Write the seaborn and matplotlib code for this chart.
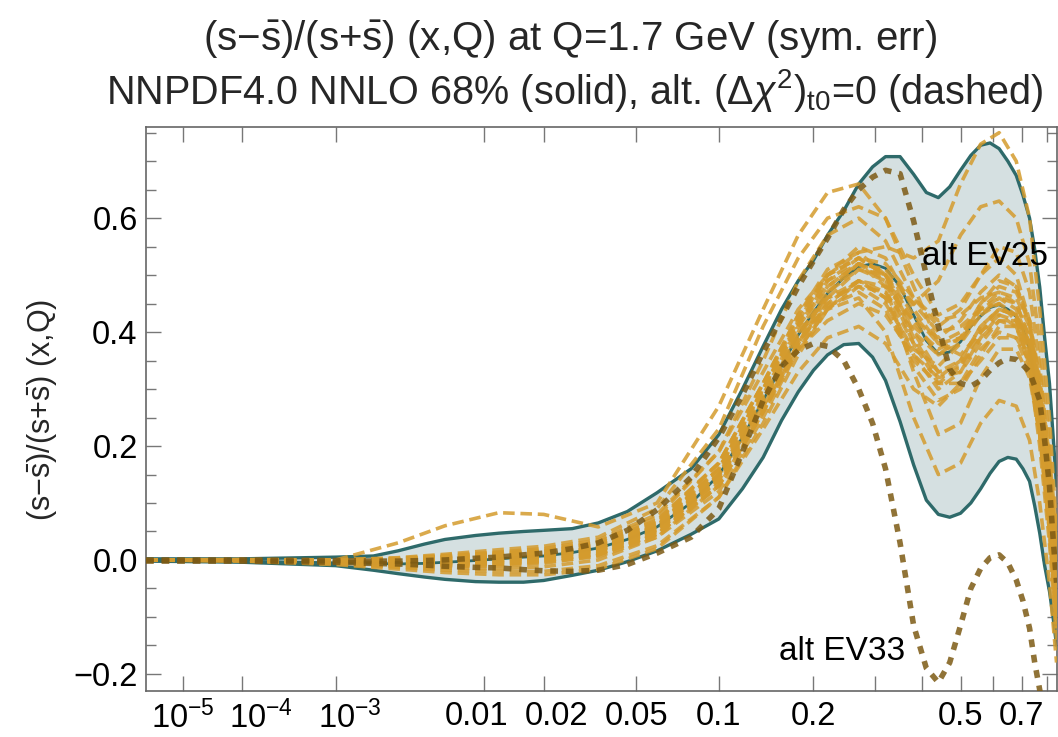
import numpy as np
import pandas as pd
import matplotlib
matplotlib.use("Agg")
import matplotlib.pyplot as plt
import matplotlib.transforms as mtransforms
import seaborn as sns

# ---------------- data ----------------
# fine x grid for the 68% band, central curve and the two highlighted alternatives
x_fine = [1e-6, 1e-4, 1e-3, 0.002, 0.003, 0.0045, 0.006, 0.009, 0.012, 0.016, 0.02, 0.027,
          0.035, 0.046, 0.06, 0.08, 0.1, 0.12, 0.14, 0.16, 0.18, 0.2, 0.22, 0.245, 0.27,
          0.295, 0.32, 0.35, 0.38, 0.41, 0.44, 0.47, 0.5, 0.53, 0.56, 0.59, 0.62, 0.65,
          0.68, 0.705, 0.73, 0.75, 0.77, 0.79, 0.81, 0.825, 0.84]

band_upper = [0.002, 0.002, 0.005, 0.007, 0.016, 0.028, 0.036, 0.043, 0.047, 0.05, 0.052, 0.055,
              0.065, 0.085, 0.118, 0.16, 0.22, 0.3, 0.375, 0.44, 0.49, 0.526, 0.57, 0.613, 0.66,
              0.69, 0.708, 0.708, 0.677, 0.645, 0.636, 0.655, 0.684, 0.71, 0.728, 0.732, 0.722, 0.70,
              0.675, 0.64, 0.6, 0.545, 0.479, 0.39, 0.31, 0.22, 0.13]
band_lower = [-0.002, -0.004, -0.01, -0.018, -0.024, -0.03, -0.034, -0.038, -0.039, -0.039, -0.036, -0.027,
              -0.018, -0.003, 0.016, 0.045, 0.072, 0.125, 0.18, 0.245, 0.295, 0.333, 0.36, 0.378, 0.38,
              0.356, 0.315, 0.243, 0.167, 0.105, 0.08, 0.075, 0.082, 0.1, 0.125, 0.152, 0.173, 0.18,
              0.177, 0.16, 0.138, 0.095, 0.047, -0.01, -0.055, -0.1, -0.15]
central = [0.0, -0.002, -0.005, -0.006, -0.007, -0.006, -0.004, -0.001, 0.002, 0.005, 0.007, 0.013,
           0.021, 0.036, 0.058, 0.1, 0.149, 0.215, 0.28, 0.34, 0.395, 0.435, 0.468, 0.495, 0.515,
           0.52, 0.512, 0.48, 0.43, 0.385, 0.362, 0.365, 0.383, 0.41, 0.428, 0.443, 0.448, 0.44,
           0.427, 0.405, 0.37, 0.32, 0.263, 0.19, 0.13, 0.06, -0.01]

ev25 = [0.0, 0.0, -0.001, -0.002, -0.002, -0.001, 0.0, 0.003, 0.005, 0.009, 0.012, 0.02,
        0.03, 0.052, 0.088, 0.145, 0.215, 0.29, 0.365, 0.425, 0.48, 0.525, 0.565, 0.615, 0.65,
        0.672, 0.684, 0.678, 0.595, 0.5, 0.41, 0.335, 0.31, 0.305, 0.315, 0.333, 0.346, 0.354,
        0.352, 0.342, 0.33, 0.305, 0.28, 0.21, 0.13, 0.04, -0.04]
ev33 = [-0.002, -0.002, -0.004, -0.006, -0.007, -0.009, -0.011, -0.013, -0.014, -0.017, -0.019, -0.02,
        -0.018, -0.008, 0.012, 0.04, 0.09, 0.19, 0.28, 0.34, 0.368, 0.38, 0.375, 0.35, 0.3,
        0.24, 0.16, 0.03, -0.115, -0.19, -0.215, -0.18, -0.115, -0.05, -0.015, 0.004, 0.009, -0.005,
        -0.035, -0.072, -0.12, -0.18, -0.228, -0.3, -0.36, -0.42, -0.47]

# coarser x grid for the bundle of alternative (dashed) fits
x_nodes = [1e-6, 1e-4, 1e-3, 0.003, 0.006, 0.012, 0.02, 0.035, 0.06, 0.1, 0.14, 0.18,
           0.22, 0.27, 0.32, 0.38, 0.44, 0.5, 0.56, 0.62, 0.68, 0.73, 0.77, 0.81, 0.84]

alt_sets = {
    "O1": [0.0, 0.0, 0.0, 0.03, 0.06, 0.083, 0.08, 0.058, 0.1, 0.27, 0.44, 0.57, 0.645, 0.66, 0.6, 0.48, 0.38, 0.36, 0.4, 0.44, 0.43, 0.36, 0.22, 0.05, -0.12],
    "O2": [0.0, 0.0, 0.0, 0.003, 0.008, 0.014, 0.02, 0.035, 0.08, 0.19, 0.33, 0.44, 0.5, 0.54, 0.55, 0.53, 0.56, 0.66, 0.73, 0.75, 0.7, 0.6, 0.44, 0.25, 0.05],
    "O3": [0.0, 0.0, -0.001, 0.0, 0.004, 0.01, 0.015, 0.03, 0.07, 0.17, 0.31, 0.43, 0.5, 0.53, 0.5, 0.45, 0.49, 0.57, 0.62, 0.63, 0.6, 0.52, 0.38, 0.2, 0.0],
    "O4": [0.0, 0.0, 0.0, 0.004, 0.01, 0.018, 0.024, 0.04, 0.09, 0.23, 0.41, 0.53, 0.6, 0.62, 0.6, 0.5, 0.43, 0.45, 0.5, 0.53, 0.5, 0.42, 0.3, 0.13, -0.05],
    "O5": [0.0, 0.0, -0.004, -0.008, -0.01, -0.008, -0.004, 0.006, 0.04, 0.12, 0.25, 0.37, 0.44, 0.46, 0.4, 0.25, 0.15, 0.17, 0.24, 0.28, 0.27, 0.21, 0.1, -0.04, -0.18],
    "O6": [0.0, 0.0, -0.003, -0.006, -0.007, -0.005, -0.001, 0.01, 0.045, 0.13, 0.26, 0.38, 0.47, 0.52, 0.48, 0.33, 0.22, 0.24, 0.32, 0.37, 0.37, 0.32, 0.22, 0.08, -0.07],
    "O7": [0.0, 0.0, 0.0, 0.002, 0.006, 0.012, 0.018, 0.032, 0.075, 0.19, 0.35, 0.49, 0.57, 0.6, 0.56, 0.46, 0.41, 0.44, 0.5, 0.55, 0.54, 0.47, 0.34, 0.17, 0.0],
    "O8": [0.0, -0.001, -0.006, -0.013, -0.018, -0.02, -0.02, -0.01, 0.025, 0.11, 0.23, 0.33, 0.39, 0.41, 0.38, 0.3, 0.27, 0.31, 0.37, 0.4, 0.39, 0.33, 0.22, 0.06, -0.1],
    "O9": [0.0, -0.002, -0.008, -0.016, -0.022, -0.026, -0.026, -0.016, 0.02, 0.11, 0.24, 0.36, 0.44, 0.49, 0.47, 0.38, 0.33, 0.35, 0.41, 0.44, 0.43, 0.38, 0.28, 0.14, 0.0],
    "B1": [0.0, 0.0, -0.002, -0.004, -0.002, 0.003, 0.008, 0.022, 0.06, 0.16, 0.3, 0.41, 0.48, 0.52, 0.5, 0.42, 0.36, 0.38, 0.43, 0.46, 0.44, 0.38, 0.27, 0.12, -0.03],
    "B2": [0.0, 0.001, 0.0, 0.002, 0.006, 0.012, 0.016, 0.028, 0.068, 0.17, 0.31, 0.42, 0.5, 0.53, 0.5, 0.4, 0.33, 0.34, 0.39, 0.42, 0.41, 0.35, 0.23, 0.06, -0.1],
    "B3": [0.0, -0.001, -0.005, -0.01, -0.012, -0.01, -0.006, 0.008, 0.045, 0.13, 0.26, 0.37, 0.44, 0.48, 0.47, 0.4, 0.36, 0.39, 0.44, 0.47, 0.46, 0.41, 0.3, 0.15, 0.0],
    "B4": [0.0, 0.0, -0.004, -0.008, -0.009, -0.005, 0.0, 0.012, 0.05, 0.14, 0.27, 0.38, 0.45, 0.49, 0.46, 0.36, 0.3, 0.33, 0.39, 0.43, 0.42, 0.37, 0.26, 0.1, -0.06],
    "B5": [0.0, 0.0, -0.001, 0.0, 0.003, 0.008, 0.012, 0.025, 0.062, 0.16, 0.3, 0.42, 0.5, 0.55, 0.53, 0.44, 0.38, 0.4, 0.44, 0.45, 0.42, 0.34, 0.2, 0.03, -0.14],
    "B6": [0.0, 0.0, -0.003, -0.006, -0.006, -0.002, 0.004, 0.016, 0.052, 0.145, 0.28, 0.39, 0.47, 0.51, 0.49, 0.38, 0.31, 0.31, 0.35, 0.39, 0.39, 0.35, 0.26, 0.12, -0.02],
    "B7": [0.0, 0.0, -0.002, -0.003, 0.0, 0.005, 0.01, 0.02, 0.058, 0.155, 0.29, 0.4, 0.46, 0.48, 0.45, 0.37, 0.34, 0.38, 0.45, 0.49, 0.48, 0.42, 0.31, 0.16, 0.02],
    "B8": [0.0, -0.001, -0.006, -0.012, -0.015, -0.015, -0.012, 0.0, 0.04, 0.13, 0.26, 0.38, 0.46, 0.51, 0.5, 0.43, 0.38, 0.39, 0.43, 0.45, 0.43, 0.37, 0.27, 0.13, -0.01],
    "B9": [0.0, 0.0, -0.002, -0.002, 0.001, 0.006, 0.01, 0.022, 0.058, 0.15, 0.27, 0.37, 0.42, 0.45, 0.43, 0.36, 0.32, 0.35, 0.41, 0.44, 0.43, 0.38, 0.29, 0.16, 0.04],
    "B10": [0.0, 0.0, -0.004, -0.007, -0.007, -0.003, 0.003, 0.015, 0.05, 0.14, 0.28, 0.4, 0.48, 0.52, 0.51, 0.45, 0.4, 0.41, 0.44, 0.46, 0.45, 0.39, 0.28, 0.11, -0.06],
    "B11": [0.0, 0.0, -0.001, 0.001, 0.005, 0.01, 0.014, 0.026, 0.065, 0.17, 0.31, 0.43, 0.51, 0.54, 0.5, 0.39, 0.32, 0.33, 0.38, 0.42, 0.42, 0.37, 0.27, 0.13, 0.0],
    "B12": [0.0, -0.001, -0.005, -0.009, -0.01, -0.007, -0.002, 0.01, 0.046, 0.135, 0.27, 0.38, 0.45, 0.49, 0.48, 0.42, 0.39, 0.42, 0.47, 0.5, 0.48, 0.41, 0.28, 0.1, -0.08],
    "B13": [0.0, 0.0, -0.003, -0.005, -0.003, 0.002, 0.007, 0.02, 0.056, 0.15, 0.285, 0.395, 0.46, 0.49, 0.46, 0.34, 0.28, 0.3, 0.36, 0.41, 0.41, 0.36, 0.24, 0.07, -0.1],
    "B14": [0.0, 0.0, -0.002, -0.004, -0.004, 0.0, 0.006, 0.018, 0.054, 0.15, 0.29, 0.41, 0.49, 0.53, 0.52, 0.46, 0.42, 0.43, 0.46, 0.47, 0.45, 0.39, 0.29, 0.15, 0.01],
    "B15": [0.0, 0.0, -0.003, -0.006, -0.005, -0.001, 0.005, 0.017, 0.053, 0.148, 0.28, 0.385, 0.445, 0.47, 0.44, 0.35, 0.31, 0.34, 0.4, 0.43, 0.41, 0.34, 0.22, 0.05, -0.12],
    "B16": [0.0, 0.0, -0.002, -0.003, -0.001, 0.004, 0.009, 0.022, 0.06, 0.16, 0.3, 0.415, 0.49, 0.52, 0.49, 0.41, 0.37, 0.39, 0.45, 0.48, 0.47, 0.42, 0.32, 0.18, 0.05],
}

x_major = [1e-5, 1e-4, 1e-3, 0.01, 0.02, 0.05, 0.1, 0.2, 0.5, 0.7]
x_major_labels = [r"$10^{-5}$", r"$10^{-4}$", r"$10^{-3}$", "0.01", "0.02", "0.05", "0.1", "0.2", "0.5", "0.7"]
x_label_shift_px = [0, 19, 14, -7, 13, 0, 0, 0, 0, 0]
x_minor = [0.3, 0.4, 0.6, 0.8]
y_major = [-0.2, 0.0, 0.2, 0.4, 0.6]
y_major_labels = ["\u22120.2", "0.0", "0.2", "0.4", "0.6"]
y_minor = [-0.15, -0.1, -0.05, 0.05, 0.1, 0.15, 0.25, 0.3, 0.35, 0.45, 0.5, 0.55, 0.65, 0.7, 0.75]

title1 = r"$(\mathrm{s}{-}\bar{\mathrm{s}})/(\mathrm{s}{+}\bar{\mathrm{s}})$ (x,Q) at Q=1.7 GeV (sym. err)"
title2 = r"NNPDF4.0 NNLO 68% (solid), alt. $(\Delta\chi^2)_{\mathrm{t0}}$=0 (dashed)"
ylabel = r"$(\mathrm{s}{-}\bar{\mathrm{s}})/(\mathrm{s}{+}\bar{\mathrm{s}})$ (x,Q)"

# ---------------- style ----------------
sns.set_theme(style="ticks")
plt.rcParams['font.family'] = ['Liberation Sans', 'DejaVu Sans']
plt.rcParams['mathtext.fontset'] = 'custom'
plt.rcParams['mathtext.rm'] = 'Liberation Sans'
plt.rcParams['mathtext.it'] = 'Liberation Sans:italic'
plt.rcParams['mathtext.bf'] = 'Liberation Sans:bold'
plt.rcParams['axes.unicode_minus'] = True

TEAL = "#2e6a6a"
FILL = "#d5e0e1"
ORANGE = "#d49b2d"
DARK = "#7d5a14"

W, H = 1058, 737
fig = plt.figure(figsize=(W / 100, H / 100), dpi=100)
ax = fig.add_axes([146 / W, 1 - 691 / H, (1057 - 146) / W, (691 - 127) / H])

ax.set_xscale('function', functions=(lambda v: np.power(np.abs(v), 0.2),
                                     lambda u: np.power(np.abs(u), 5.0)))

ax.fill_between(x_fine, band_lower, band_upper, color=FILL, lw=0, zorder=1)
for edge in (band_upper, band_lower):
    sns.lineplot(x=x_fine, y=edge, ax=ax, color=TEAL, lw=2.4, zorder=2, errorbar=None)
sns.lineplot(x=x_fine, y=central, ax=ax, color=TEAL, lw=2.0, zorder=2, errorbar=None)

rows = []
for name, vals in alt_sets.items():
    for xv, yv in zip(x_nodes, vals):
        rows.append((name, xv, yv))
df = pd.DataFrame(rows, columns=["curve", "x", "y"])
sns.lineplot(data=df, x="x", y="y", units="curve", estimator=None, ax=ax,
             color=ORANGE, lw=2.6, alpha=0.85, linestyle=(0, (3.2, 1.6)), zorder=3)

for vals in (ev25, ev33):
    sns.lineplot(x=x_fine, y=vals, ax=ax, color=DARK, lw=4.0, alpha=0.85,
                 linestyle=(0, (1.4, 1.4)), zorder=4, errorbar=None)

ax.text(0.574, 0.532, "alt EV25", ha="center", va="center", fontsize=24, color="black", zorder=6)
ax.text(0.2423, -0.161, "alt EV33", ha="center", va="center", fontsize=24, color="black", zorder=6)

ax.set_xlim(1e-6, 0.842)
ax.set_ylim(-0.23, 0.76)
ax.set_xticks(x_major)
ax.set_xticklabels(x_major_labels)
ax.set_xticks(x_minor, minor=True)
ax.set_xticklabels([], minor=True)
ax.set_yticks(y_major)
ax.set_yticklabels(y_major_labels)
ax.set_yticks(y_minor, minor=True)
ax.set_xlabel("")
ax.set_ylabel("")

ax.tick_params(which='both', direction='in', top=True, right=True, color='#777777', width=1.0,
               labelsize=23.5, labelcolor='black')
ax.tick_params(axis='x', which='both', length=11, pad=7)
ax.tick_params(axis='y', which='major', length=11, pad=6)
ax.tick_params(axis='y', which='minor', length=7)
for sp in ax.spines.values():
    sp.set_color('#666666')
    sp.set_linewidth(1.2)
    sp.set_visible(True)

for tick, dx in zip(ax.xaxis.get_major_ticks(), x_label_shift_px):
    lab = tick.label1
    lab.set_transform(lab.get_transform() +
                      mtransforms.ScaledTranslation(dx / 100, 0, fig.dpi_scale_trans))

fig.text(570 / W, 1 - 39 / H, title1, ha="center", va="center", fontsize=29)
fig.text(575 / W, 1 - 90 / H, title2, ha="center", va="center", fontsize=28.5)
fig.text(42 / W, 1 - 410 / H, ylabel, rotation=90, ha="center", va="center", fontsize=22)

fig.savefig("out.png", dpi=100)
